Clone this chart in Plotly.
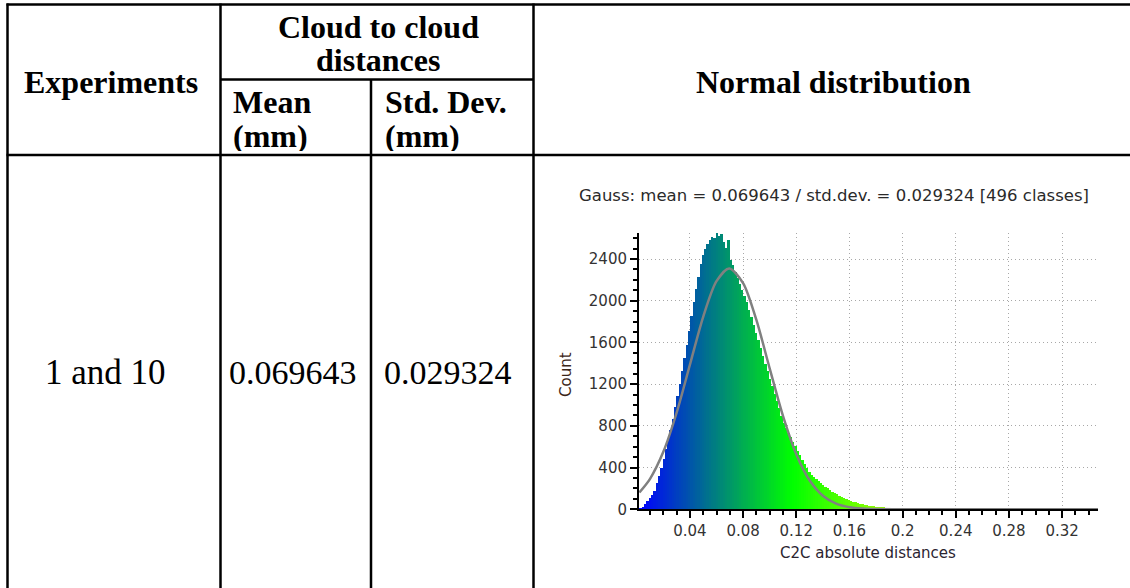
import plotly.graph_objects as go

W, H = 1130, 588

# ---------------- data ----------------
experiments = ["1 and 10"]
mean_mm = ["0.069643"]
std_mm = ["0.029324"]

# histogram, C2C absolute distances (mm) vs count per class
hist_start = 0.002
hist_end = 0.347
fine_width = 0.00174        # classes over the main part of the distribution
fine_counts = [
    5, 22, 50, 80, 110, 138, 180, 255, 324, 393,
    484, 577, 670, 763, 866, 979, 1091, 1203, 1328, 1452,
    1576, 1713, 1852, 1991, 2112, 2232, 2352, 2438, 2494, 2540,
    2580, 2610, 2600, 2650, 2620, 2640, 2560, 2510, 2580, 2390,
    2340, 2280, 2220, 2165, 2105, 2045, 1990, 1914, 1840, 1767,
    1694, 1621, 1547, 1473, 1398, 1324, 1250, 1178, 1108, 1038,
    969, 899, 830, 776, 733, 690, 648, 605, 562, 520,
    477, 435, 397, 357, 333, 312, 290, 270, 250, 232,
    215, 200, 184, 170, 156, 146, 130, 118, 106, 95,
    87, 80, 73, 66, 60, 54, 49, 44, 40, 36,
    32, 28, 24, 22, 20, 18, 16, 14, 13, 12,
    11, 10, 9, 8,
]
tail_width = 0.00349        # sparse tail classes
tail_counts = [
    7, 6, 6, 5, 5, 4, 4, 4, 3, 3,
    3, 3, 2, 2, 2, 2, 2, 2, 2, 2,
    1, 1, 1, 1, 1, 1, 1, 1, 1, 1,
    1, 1, 1, 1, 1, 1, 1, 1, 1, 1,
    1, 1,
]

gauss_x = [0.002, 0.01, 0.02, 0.03, 0.04, 0.05, 0.06, 0.0696, 0.08, 0.09,
           0.10, 0.11, 0.12, 0.13, 0.14, 0.15, 0.16, 0.17, 0.18, 0.20,
           0.25, 0.30, 0.347]
gauss_y = [161, 292, 551, 926, 1386, 1846, 2188, 2310, 2170, 1816,
           1352, 896, 529, 278, 130, 54, 20, 7, 2, 0,
           0, 0, 0]

x_tickvals = [0.04, 0.08, 0.12, 0.16, 0.2, 0.24, 0.28, 0.32]
x_ticktext = ["0.04", "0.08", "0.12", "0.16", "0.2", "0.24", "0.28", "0.32"]
y_tickvals = [0, 400, 800, 1200, 1600, 2000, 2400]
y_ticktext = ["0", "400", "800", "1200", "1600", "2000", "2400"]

title_text = "Gauss: mean = 0.069643 / std.dev. = 0.029324 [496 classes]"

# -------------- helpers --------------
def px(x):
    return x / W

def py(y):
    return 1 - y / H

fine_centers = [hist_start + (i + 0.5) * fine_width for i in range(len(fine_counts))]
tail_start = hist_start + len(fine_counts) * fine_width
tail_centers = [tail_start + (i + 0.5) * tail_width for i in range(len(tail_counts))]
centers = fine_centers + tail_centers
counts = fine_counts + tail_counts
widths = [fine_width] * len(fine_counts) + [tail_width] * len(tail_counts)

fig = go.Figure()
fig.add_trace(go.Bar(
    x=centers, y=counts, width=widths,
    marker=dict(color=centers,
                colorscale=[[0, "rgb(0,0,255)"], [1/3, "rgb(0,255,0)"],
                            [2/3, "rgb(255,255,0)"], [1, "rgb(255,0,0)"]],
                cmin=hist_start, cmax=hist_end, line=dict(width=0)),
    showlegend=False, hoverinfo="skip",
))
fig.add_trace(go.Scatter(
    x=gauss_x, y=gauss_y, mode="lines",
    line=dict(color="#808080", width=2.5, shape="spline", smoothing=0.8),
    showlegend=False, hoverinfo="skip",
))

tick_font = dict(family="DejaVu Sans", size=15, color="#333333")
grid_dash = "1px,3px"

fig.update_layout(
    width=W, height=H,
    margin=dict(l=0, r=0, t=0, b=0, pad=0),
    paper_bgcolor="white", plot_bgcolor="white",
    bargap=0,
    xaxis=dict(
        domain=[px(639), px(1098)],
        range=[0.0017, 0.347], automargin=False,
        tickvals=x_tickvals, ticktext=x_ticktext,
        ticks="outside", ticklen=7, tickwidth=1.5, tickcolor="black",
        minor=dict(dtick=0.01, tick0=0, ticks="outside", ticklen=4,
                   tickwidth=1.5, tickcolor="black", showgrid=False),
        showline=True, linecolor="black", linewidth=2,
        showgrid=True, gridcolor="#a8a8a8", griddash=grid_dash, gridwidth=1,
        zeroline=False, tickfont=tick_font,
    ),
    yaxis=dict(
        domain=[py(509.3), py(233)],
        range=[0, 2650], automargin=False,
        tickvals=y_tickvals, ticktext=y_ticktext,
        ticks="outside", ticklen=7, tickwidth=1.5, tickcolor="black",
        minor=dict(dtick=100, tick0=0, ticks="outside", ticklen=4,
                   tickwidth=1.5, tickcolor="black", showgrid=False),
        showline=True, linecolor="black", linewidth=2,
        showgrid=True, gridcolor="#a8a8a8", griddash=grid_dash, gridwidth=1,
        zeroline=False, tickfont=tick_font,
    ),
)

# -------------- table borders --------------
def hline(y, x0, x1):
    fig.add_shape(type="line", xref="paper", yref="paper",
                  x0=px(x0), x1=px(x1), y0=py(y), y1=py(y),
                  line=dict(color="black", width=2.5))

def vline(x, y0, y1):
    fig.add_shape(type="line", xref="paper", yref="paper",
                  x0=px(x), x1=px(x), y0=py(y0), y1=py(y1),
                  line=dict(color="black", width=2.5))

hline(4.5, 6.5, 1130)
hline(155, 6.5, 1130)
hline(79.5, 220.5, 533.5)
vline(7.5, 3.5, 588)
vline(220.5, 3.5, 588)
vline(371, 79.5, 588)
vline(533.5, 3.5, 588)

serif = "Liberation Serif"

def txt(s, x, y, size=32, bold=True, anchor="center", box_h=None):
    fig.add_annotation(text=s, x=px(x), y=py(y), xref="paper", yref="paper",
                       xanchor=anchor, yanchor="middle", showarrow=False,
                       height=box_h,
                       font=dict(family=serif, size=size, color="black",
                                 weight="bold" if bold else "normal"))

txt("Experiments", 111, 82)
txt("Cloud to cloud", 378, 27, box_h=30)
txt("distances", 378, 60, box_h=30)
txt("Mean", 231, 102, anchor="left", box_h=30)
txt("(mm)", 231, 136, anchor="left", box_h=30)
txt("Std. Dev.", 383, 102, anchor="left", box_h=30)
txt("(mm)", 383, 136, anchor="left", box_h=30)
txt("Normal distribution", 834, 82)
txt(experiments[0], 105, 372, size=35, bold=False)
txt(mean_mm[0], 293, 372, size=34, bold=False)
txt(std_mm[0], 448, 372, size=34, bold=False)

# -------------- histogram texts --------------
fig.add_annotation(text=title_text, x=px(834), y=py(195), xref="paper", yref="paper",
                   xanchor="center", yanchor="middle", showarrow=False,
                   font=dict(family="DejaVu Sans", size=16.5, color="#2a2a2a"))
fig.add_annotation(text="Count", x=px(566), y=py(375), xref="paper", yref="paper",
                   xanchor="center", yanchor="middle", showarrow=False, textangle=-90,
                   font=dict(family="DejaVu Sans", size=15, color="#3b2618"))
fig.add_annotation(text="C2C absolute distances", x=px(868), y=py(553), xref="paper", yref="paper",
                   xanchor="center", yanchor="middle", showarrow=False,
                   font=dict(family="DejaVu Sans", size=15, color="#2b2430"))

fig.write_html("out.html", config={"displayModeBar": False},
               post_script="document.body.style.margin='0px';")
